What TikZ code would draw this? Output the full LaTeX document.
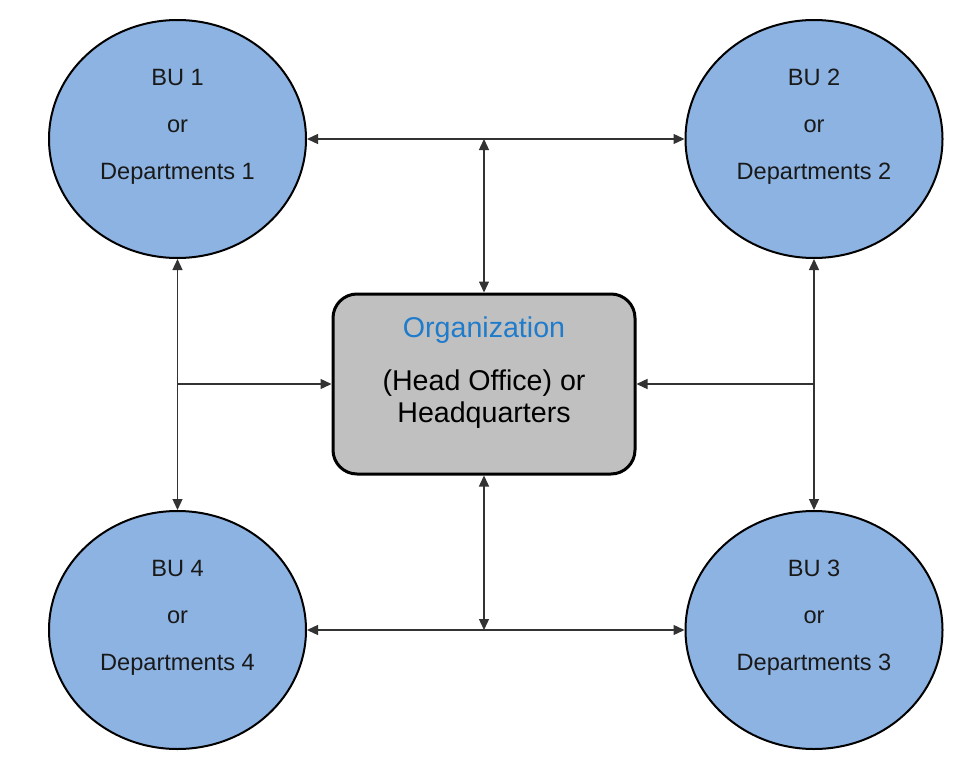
\documentclass[tikz,border=0pt]{standalone}
\usepackage{fontspec}
\setmainfont{Liberation Sans}
\usetikzlibrary{arrows.meta,shapes.geometric,calc}
\definecolor{bublue}{HTML}{8DB3E2}
\definecolor{hqgray}{HTML}{C0C0C0}
\definecolor{orgblue}{HTML}{1F7BCB}

\begin{document}
\begin{tikzpicture}[x=1pt, y=-1pt,
        >={Triangle[length=11pt,width=10pt]},
        unit/.style={ellipse, draw=black, line width=2pt, fill=bublue, minimum width=257pt, minimum height=238pt, inner sep=0pt},
        unittext/.style={align=center, font=\fontsize{23.6}{47}\selectfont, text=black!90},
        hq/.style={draw=black, line width=3pt, fill=hqgray, rounded corners=24pt, minimum width=302pt, minimum height=180pt, inner sep=0pt},
        link/.style={<->, draw=black!80, line width=1.3pt},
        tolink/.style={->, draw=black!80, line width=1.3pt}]
        \useasboundingbox (0, 0) rectangle (954, 779);
        % business units
        \node[unit] (bu1) at (177.5, 139) {};
        \node[unit] (bu2) at (814, 139) {};
        \node[unit] (bu3) at (814, 630) {};
        \node[unit] (bu4) at (177.5, 630) {};
        \node[unittext] (bu1txt) at ([yshift=12pt]bu1.center) {BU 1\\or\\Departments 1};
        \node[unittext] (bu2txt) at ([yshift=12pt]bu2.center) {BU 2\\or\\Departments 2};
        \node[unittext] (bu3txt) at ([yshift=12pt]bu3.center) {BU 3\\or\\Departments 3};
        \node[unittext] (bu4txt) at ([yshift=12pt]bu4.center) {BU 4\\or\\Departments 4};
        % headquarters
        \node[hq] (hq) at (484, 384) {};
        \node[align=center, font=\fontsize{28.6}{32}\selectfont] (hqtxt) at ([yshift=11pt]hq.center) {\textcolor{orgblue}{Organization}\\[21pt](Head Office) or\\Headquarters};
        % links
        \draw[link] (bu1.east) -- (bu2.west);
        \draw[link] (bu4.east) -- (bu3.west);
        \draw[link] (bu1.south) -- (bu4.north);
        \draw[link] (bu2.south) -- (bu3.north);
        \draw[link] (hq.north |- bu1.east) -- (hq.north);
        \draw[link] (hq.south) -- (hq.south |- bu4.east);
        \draw[tolink] (bu1.south |- hq.west) -- (hq.west);
        \draw[tolink] (bu2.south |- hq.east) -- (hq.east);
    \end{tikzpicture}
\end{document}
